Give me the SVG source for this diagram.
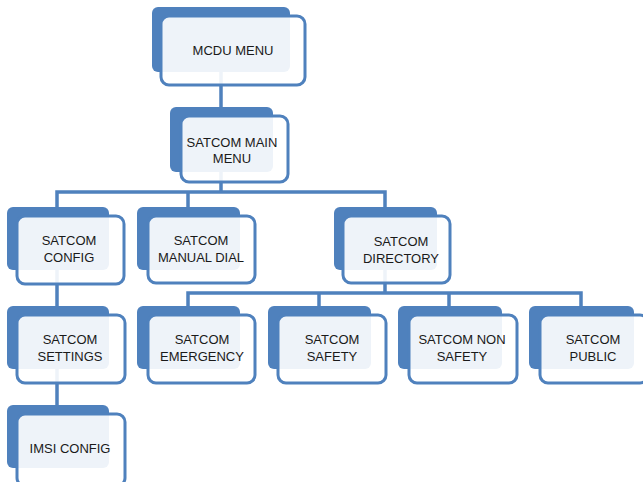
<svg xmlns="http://www.w3.org/2000/svg" width="643" height="482" viewBox="0 0 643 482">
<style>
.back{fill:#4F81BD}
.front{fill:#FFFFFF;fill-opacity:0.9;stroke:#4F81BD;stroke-width:3}
.conn{fill:none;stroke:#4F81BD;stroke-width:3.5}
text{font-family:"Liberation Sans",Arial,sans-serif;font-size:13px;fill:#1a1a1a;text-anchor:middle}
</style>
<rect width="643" height="482" fill="#FFFFFF"/>
<g id="connectors" class="conn">
<path d="M221,72 V108"/>
<path d="M221,172 V192"/>
<path d="M57,208 V192 H385 V208"/>
<path d="M188,192 V208"/>
<path d="M57,269 V307"/>
<path d="M57,368 V406"/>
<path d="M385,270 V293"/>
<path d="M188,307 V293 H581 V307"/>
<path d="M319,293 V307"/>
<path d="M449,293 V307"/>
</g>
<g id="mcdu-menu">
<rect class="back" x="152" y="7" width="138" height="65" rx="6"/>
<rect class="front" x="161" y="16" width="144" height="69" rx="8"/>
<text x="233" y="55">MCDU MENU</text>
</g>
<g id="satcom-main-menu">
<rect class="back" x="170" y="107" width="103" height="65" rx="6"/>
<rect class="front" x="181" y="116" width="107" height="66" rx="8"/>
<text x="232" y="147">SATCOM MAIN</text>
<text x="232" y="163">MENU</text>
</g>
<g id="satcom-config">
<rect class="back" x="7" y="207" width="102" height="63" rx="6"/>
<rect class="front" x="17" y="216" width="107" height="68" rx="8"/>
<text x="69" y="245">SATCOM</text>
<text x="69" y="262">CONFIG</text>
</g>
<g id="satcom-manual-dial">
<rect class="back" x="137" y="207" width="103" height="63" rx="6"/>
<rect class="front" x="148" y="216" width="107" height="67" rx="8"/>
<text x="201" y="245">SATCOM</text>
<text x="201" y="262">MANUAL DIAL</text>
</g>
<g id="satcom-directory">
<rect class="back" x="334" y="207" width="103" height="63" rx="6"/>
<rect class="front" x="343" y="216" width="107" height="67" rx="8"/>
<text x="401" y="246">SATCOM</text>
<text x="401" y="263">DIRECTORY</text>
</g>
<g id="satcom-settings">
<rect class="back" x="7" y="306" width="102" height="63" rx="6"/>
<rect class="front" x="17" y="315" width="108" height="68" rx="8"/>
<text x="70" y="344">SATCOM</text>
<text x="70" y="361">SETTINGS</text>
</g>
<g id="imsi-config">
<rect class="back" x="7" y="405" width="102" height="63" rx="6"/>
<rect class="front" x="17" y="414" width="108" height="72" rx="8"/>
<text x="70" y="453">IMSI CONFIG</text>
</g>
<g id="satcom-emergency">
<rect class="back" x="137" y="306" width="103" height="63" rx="6"/>
<rect class="front" x="148" y="315" width="107" height="68" rx="8"/>
<text x="202" y="344">SATCOM</text>
<text x="202" y="361">EMERGENCY</text>
</g>
<g id="satcom-safety">
<rect class="back" x="268" y="306" width="103" height="63" rx="6"/>
<rect class="front" x="278" y="315" width="108" height="68" rx="8"/>
<text x="332" y="344">SATCOM</text>
<text x="332" y="361">SAFETY</text>
</g>
<g id="satcom-non-safety">
<rect class="back" x="398" y="306" width="104" height="63" rx="6"/>
<rect class="front" x="409" y="315" width="108" height="68" rx="8"/>
<text x="462" y="344">SATCOM NON</text>
<text x="462" y="361">SAFETY</text>
</g>
<g id="satcom-public">
<rect class="back" x="529" y="306" width="105" height="63" rx="6"/>
<rect class="front" x="540" y="315" width="108" height="68" rx="8"/>
<text x="593" y="344">SATCOM</text>
<text x="593" y="361">PUBLIC</text>
</g>
</svg>
